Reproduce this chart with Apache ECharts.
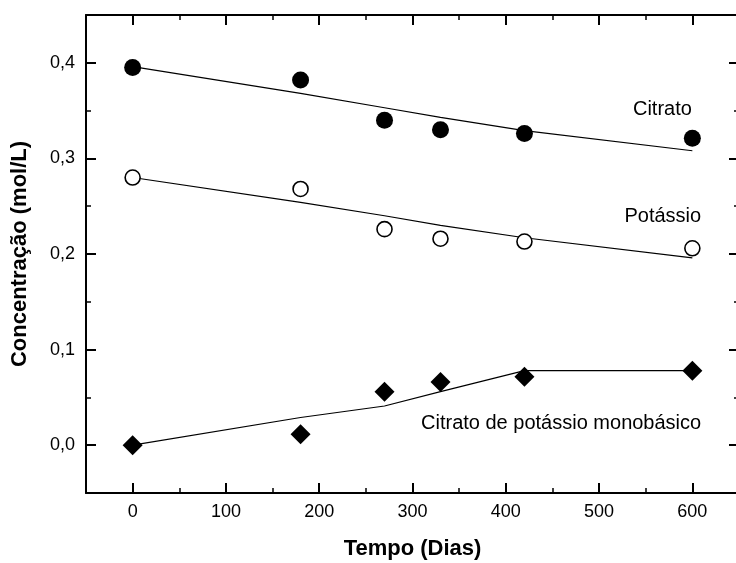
<!DOCTYPE html>
<html>
<head>
<meta charset="utf-8">
<script src="https://cdn.jsdelivr.net/npm/echarts@6/dist/echarts.min.js"></script>
<style>
html,body{margin:0;padding:0;background:#fff;}
#chart{width:736px;height:563px;}
</style>
</head>
<body>
<div id="chart"></div>
<script>
// ---- data ----
const days = [0, 180, 270, 330, 420, 600];
const citrato = [0.395, 0.382, 0.340, 0.330, 0.326, 0.321];
const citratoFit = [0.396, 0.368, 0.353, 0.343, 0.329, 0.308];
const potassio = [0.280, 0.268, 0.226, 0.216, 0.213, 0.206];
const potassioFit = [0.280, 0.254, 0.240, 0.230, 0.217, 0.196];
const mono = [0.000, 0.0115, 0.056, 0.066, 0.0715, 0.078];
const monoFit = [0.000, 0.029, 0.041, 0.056, 0.078, 0.078];

const xMajorTicks = [0, 100, 200, 300, 400, 500, 600];
const xMinorTicks = [50, 150, 250, 350, 450, 550];
const yMajorTicks = [0, 0.1, 0.2, 0.3, 0.4];
const yMinorTicks = [0.05, 0.15, 0.25, 0.35];

const annotTexts = ['Citrato', 'Potássio', 'Citrato de potássio monobásico'];
const annotX = [600, 610, 610];
const annotY = [0.351, 0.239, 0.023];

const xTitle = 'Tempo (Dias)';
const yTitle = 'Concentração (mol/L)';

// ---- helpers ----
const FONT = 'Liberation Sans, Arial, sans-serif';
const pairs = (xs, ys) => xs.map((x, i) => [x, ys[i]]);

function xAxisDef(position, ticks, len, width, withLabels, withLine) {
  const ax = {
    type: 'value', gridIndex: 0, position: position,
    min: -50, max: 650,
    splitLine: {show: false},
    axisLine: {show: withLine, onZero: false, lineStyle: {color: '#000', width: 2}},
    axisTick: {show: true, inside: true, length: len, customValues: ticks,
               lineStyle: {color: '#000', width: width}},
    axisLabel: {show: false}
  };
  if (withLabels) {
    ax.axisLabel = {show: true, customValues: xMajorTicks, margin: 10,
      color: '#000', fontFamily: FONT, fontSize: 18,
      formatter: v => String(v)};
    ax.name = xTitle;
    ax.nameLocation = 'middle';
    ax.nameGap = 45;
    ax.nameTextStyle = {color: '#000', fontFamily: FONT, fontSize: 22, fontWeight: 'bold'};
  }
  return ax;
}
function yAxisDef(position, ticks, len, width, withLabels, withLine) {
  const ax = {
    type: 'value', gridIndex: 0, position: position,
    min: -0.05, max: 0.45,
    splitLine: {show: false},
    axisLine: {show: withLine, onZero: false, lineStyle: {color: '#000', width: 2}},
    axisTick: {show: true, inside: true, length: len, customValues: ticks,
               lineStyle: {color: '#000', width: width}},
    axisLabel: {show: false}
  };
  if (withLabels) {
    ax.axisLabel = {show: true, customValues: yMajorTicks, margin: 11,
      color: '#000', fontFamily: FONT, fontSize: 18,
      formatter: v => v.toFixed(1).replace('.', ',')};
    ax.name = yTitle;
    ax.nameLocation = 'middle';
    ax.nameGap = 55;
    ax.nameTextStyle = {color: '#000', fontFamily: FONT, fontSize: 22, fontWeight: 'bold'};
  }
  return ax;
}

const chart = echarts.init(document.getElementById('chart'), null, {renderer: 'canvas'});

const fitLine = (d) => ({
  type: 'line', data: d, showSymbol: false, symbol: 'none', silent: true, z: 2,
  lineStyle: {color: '#000', width: 1.2}, xAxisIndex: 0, yAxisIndex: 0, animation: false
});

chart.setOption({
  animation: false,
  backgroundColor: '#fff',
  grid: {left: 86, top: 15, width: 653, height: 478, containLabel: false, outerBoundsMode: 'none'},
  xAxis: [
    xAxisDef('bottom', xMajorTicks, 10, 2, true, true),
    xAxisDef('bottom', xMinorTicks, 5, 1.5, false, false),
    xAxisDef('top', xMajorTicks, 10, 2, false, true),
    xAxisDef('top', xMinorTicks, 5, 1.5, false, false)
  ],
  yAxis: [
    yAxisDef('left', yMajorTicks, 10, 2, true, true),
    yAxisDef('left', yMinorTicks, 5, 1.5, false, false),
    yAxisDef('right', yMajorTicks, 10, 2, false, true),
    yAxisDef('right', yMinorTicks, 5, 1.5, false, false)
  ],
  series: [
    fitLine(pairs(days, citratoFit)),
    fitLine(pairs(days, potassioFit)),
    fitLine(pairs(days, monoFit)),
    {
      type: 'scatter', data: pairs(days, citrato), symbol: 'circle', symbolSize: 17, z: 5,
      itemStyle: {color: '#000', opacity: 1}, xAxisIndex: 0, yAxisIndex: 0
    },
    {
      type: 'scatter', data: pairs(days, potassio), symbol: 'circle', symbolSize: 15, z: 5,
      itemStyle: {color: '#fff', borderColor: '#000', borderWidth: 1.6, opacity: 1}, xAxisIndex: 0, yAxisIndex: 0
    },
    {
      type: 'scatter', data: pairs(days, mono), symbol: 'diamond', symbolSize: 20, z: 5,
      itemStyle: {color: '#000', opacity: 1}, xAxisIndex: 0, yAxisIndex: 0
    },
    {
      type: 'scatter', silent: true, z: 6,
      data: annotTexts.map((t, i) => ({value: [annotX[i], annotY[i]], name: t})),
      symbolSize: 1, itemStyle: {color: 'rgba(0,0,0,0)', opacity: 1},
      label: {show: true, position: 'left', distance: 0, formatter: p => p.name,
              color: '#000', opacity: 1, fontFamily: FONT, fontSize: 20},
      xAxisIndex: 0, yAxisIndex: 0
    }
  ]
});
</script>
</body>
</html>
